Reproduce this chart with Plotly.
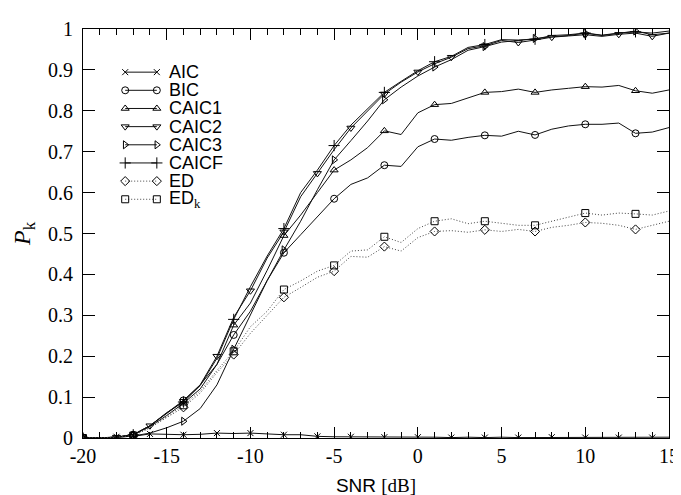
import plotly.graph_objects as go

# ---------------- data ----------------
snr = list(range(-20, 16))

aic = [0, 0, 0.003, 0.004, 0.010, 0.009, 0.008, 0.009, 0.012, 0.011, 0.012, 0.010,
       0.008, 0.008, 0.004, 0.003, 0.003, 0.003, 0.002, 0.002, 0.002, 0.002, 0.001, 0.002,
       0.001, 0.002, 0.001, 0.001, 0.002, 0.001, 0.001, 0.002, 0.001, 0.001, 0.001, 0.002]
bic = [0, 0, 0.002, 0.008, 0.030, 0.060, 0.092, 0.130, 0.180, 0.252, 0.310, 0.385,
       0.453, 0.497, 0.541, 0.585, 0.620, 0.636, 0.667, 0.664, 0.712, 0.731, 0.728, 0.735,
       0.740, 0.738, 0.750, 0.741, 0.755, 0.763, 0.767, 0.767, 0.770, 0.745, 0.748, 0.759]
caic1 = [0, 0, 0.002, 0.008, 0.028, 0.055, 0.085, 0.120, 0.180, 0.276, 0.330, 0.410,
         0.495, 0.545, 0.600, 0.655, 0.680, 0.710, 0.751, 0.742, 0.795, 0.815, 0.818, 0.831,
         0.845, 0.847, 0.853, 0.845, 0.851, 0.855, 0.859, 0.858, 0.862, 0.849, 0.843, 0.851]
caic2 = [0, 0, 0.002, 0.008, 0.030, 0.060, 0.090, 0.130, 0.200, 0.295, 0.360, 0.440,
         0.504, 0.590, 0.647, 0.705, 0.758, 0.800, 0.841, 0.870, 0.895, 0.915, 0.931, 0.952,
         0.959, 0.972, 0.967, 0.973, 0.980, 0.983, 0.986, 0.982, 0.987, 0.990, 0.982, 0.990]
caic3 = [0, 0, 0.001, 0.005, 0.012, 0.025, 0.041, 0.072, 0.130, 0.217, 0.300, 0.385,
         0.460, 0.530, 0.607, 0.680, 0.727, 0.775, 0.827, 0.858, 0.885, 0.907, 0.925, 0.948,
         0.957, 0.968, 0.972, 0.977, 0.981, 0.984, 0.990, 0.984, 0.989, 0.995, 0.986, 0.990]
caicf = [0, 0, 0.002, 0.008, 0.030, 0.062, 0.088, 0.128, 0.195, 0.290, 0.370, 0.445,
         0.512, 0.600, 0.655, 0.715, 0.765, 0.805, 0.845, 0.872, 0.898, 0.920, 0.933, 0.955,
         0.962, 0.974, 0.973, 0.975, 0.984, 0.986, 0.990, 0.985, 0.990, 0.993, 0.990, 0.995]
ed = [0, 0, 0.002, 0.006, 0.025, 0.050, 0.075, 0.110, 0.160, 0.204, 0.256, 0.300,
      0.344, 0.368, 0.393, 0.408, 0.444, 0.442, 0.468, 0.457, 0.490, 0.505, 0.507, 0.503,
      0.509, 0.505, 0.510, 0.505, 0.515, 0.520, 0.527, 0.525, 0.520, 0.510, 0.520, 0.530]
edk = [0, 0, 0.002, 0.006, 0.025, 0.052, 0.080, 0.115, 0.165, 0.212, 0.272, 0.310,
       0.363, 0.384, 0.408, 0.422, 0.457, 0.460, 0.492, 0.478, 0.512, 0.530, 0.536, 0.524,
       0.530, 0.525, 0.520, 0.520, 0.530, 0.540, 0.550, 0.545, 0.550, 0.548, 0.545, 0.555]

names = ["AIC", "BIC", "CAIC1", "CAIC2", "CAIC3", "CAICF", "ED",
         "ED<sub><span style='font-family:Liberation Serif'>k</span></sub>"]
series = [aic, bic, caic1, caic2, caic3, caicf, ed, edk]

x_tick_vals = [-20, -15, -10, -5, 0, 5, 10, 15]
x_tick_text = ["-20", "-15", "-10", "-5", "0", "5", "10", "15"]
y_tick_vals = [0, 0.1, 0.2, 0.3, 0.4, 0.5, 0.6, 0.7, 0.8, 0.9, 1]
y_tick_text = ["0", "0.1", "0.2", "0.3", "0.4", "0.5", "0.6", "0.7", "0.8", "0.9", "1"]

# ---------------- styles ----------------
symbols = ["x-thin-open", "circle-open", "triangle-up-open", "triangle-down-open",
           "triangle-right-open", "cross-thin-open", "diamond-open", "square-open"]
marker_step = [2, 3, 3, 2, 3, 3, 3, 3]
dashes = ["solid"] * 6 + ["1px,2px", "1px,2px"]
line_colors = ["#111111"] * 6 + ["#444444", "#444444"]
marker_sizes = [6, 7, 7, 7, 7, 8, 7, 7]

SERIF = "Liberation Serif"
SANS = "Liberation Sans"

W, H = 681, 495
L, R, T, B = 75, 10, 13, 65

# legend geometry in overlay axis units (0..1 over plot area)
leg_x0, leg_x1, leg_text_x = 0.072, 0.126, 0.143
leg_y0, leg_dy = 0.8945, 0.0444

fig = go.Figure()

for i, (nm, ys) in enumerate(zip(names, series)):
    fig.add_trace(go.Scatter(
        x=snr, y=ys, mode="lines", showlegend=False, hoverinfo="skip",
        line=dict(color=line_colors[i], width=1, dash=dashes[i])))
    mx = snr[::marker_step[i]]
    my = ys[::marker_step[i]]
    fig.add_trace(go.Scatter(
        x=mx, y=my, mode="markers", showlegend=False, name=nm,
        marker=dict(symbol=symbols[i], size=marker_sizes[i], color="black",
                    line=dict(color="black", width=1))))

# custom gnuplot-style key
annotations = []
for i, nm in enumerate(names):
    yy = leg_y0 - i * leg_dy
    fig.add_trace(go.Scatter(
        x=[leg_x0, leg_x1], y=[yy, yy], xaxis="x2", yaxis="y2",
        mode="lines+markers", showlegend=False, hoverinfo="skip",
        line=dict(color=line_colors[i], width=1, dash=dashes[i]),
        marker=dict(symbol=symbols[i], size=marker_sizes[i], color="black",
                    line=dict(color="black", width=1))))
    annotations.append(dict(
        x=leg_text_x, y=yy, xref="x2", yref="y2", text=nm, showarrow=False,
        xanchor="left", yanchor="middle",
        font=dict(family=SANS, size=18, color="black")))

fig.update_layout(
    width=W, height=H,
    margin=dict(l=L, r=R, t=T, b=B),
    paper_bgcolor="white", plot_bgcolor="white",
    showlegend=False,
    annotations=annotations,
    xaxis=dict(
        range=[-20, 15], tickmode="array", tickvals=x_tick_vals, ticktext=x_tick_text,
        ticks="inside", ticklen=11, tickwidth=1, tickcolor="black",
        showline=True, linecolor="black", linewidth=1, mirror="ticks",
        showgrid=False, zeroline=False,
        minor=dict(tickmode="linear", tick0=-20, dtick=1, ticks="inside",
                   ticklen=6, tickcolor="black", showgrid=False),
        tickfont=dict(family=SERIF, size=20, color="black"),
        title=dict(text="SNR <span style='font-family:Liberation Serif'>[dB]</span>",
                   font=dict(family=SANS, size=19, color="black"), standoff=12),
    ),
    yaxis=dict(
        range=[0, 1], tickmode="array", tickvals=y_tick_vals, ticktext=y_tick_text,
        ticks="inside", ticklen=12, tickwidth=1, tickcolor="black",
        showline=True, linecolor="black", linewidth=1, mirror="ticks",
        showgrid=False, zeroline=False,
        tickfont=dict(family=SERIF, size=20, color="black"),
        ticklabelstandoff=5,
        title=dict(text="<i>P</i><sub>k</sub>",
                   font=dict(family=SERIF, size=24, color="black"), standoff=10),
    ),
    xaxis2=dict(overlaying="x", anchor="y2", range=[0, 1], visible=False, fixedrange=True),
    yaxis2=dict(overlaying="y", anchor="x2", range=[0, 1], visible=False, fixedrange=True),
)

fig.write_html("out.html")
